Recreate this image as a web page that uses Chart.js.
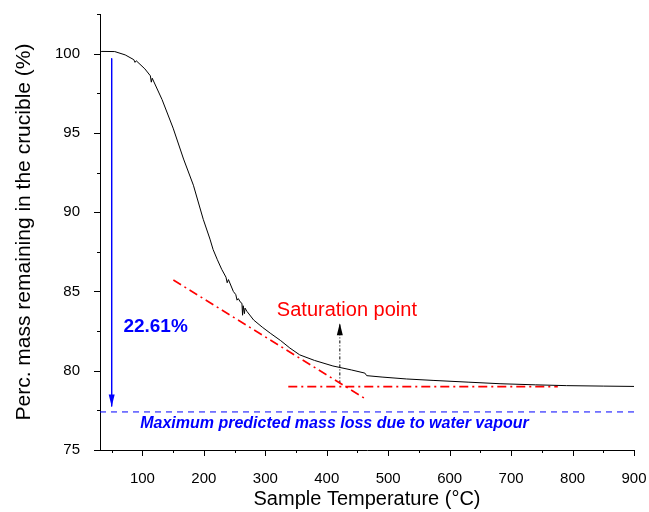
<!DOCTYPE html>
<html>
<head>
<meta charset="utf-8">
<script src="https://cdn.jsdelivr.net/npm/chart.js@4.4.1/dist/chart.umd.min.js"></script>
<style>
  html, body { margin: 0; padding: 0; background: #fff; }
  canvas { display: block; }
</style>
</head>
<body>
<canvas id="tgaChart" width="649" height="512"></canvas>
<script>
// TGA curve: sample temperature (°C) vs mass remaining (%)
const temps = [31, 31.3, 34, 55, 72, 86, 88, 90, 104, 113, 114.5, 116, 132, 150, 167, 183, 199, 210, 215, 222, 229, 236, 238, 240, 248, 252, 254, 256, 260, 262, 263, 264, 266, 267, 270, 281, 295, 308, 325, 340, 356, 380, 410, 440, 462, 465, 490, 530, 573, 630, 682, 740, 790, 850, 900];
const massPct = [100.75, 100.1, 100.14, 100.13, 99.92, 99.62, 99.45, 99.55, 99.04, 98.6, 98.2, 98.45, 97.1, 95.3, 93.35, 91.7, 89.55, 88.3, 87.65, 87.0, 86.4, 85.9, 85.55, 85.75, 85.0, 84.8, 84.45, 84.55, 84.3, 84.25, 83.5, 84.1, 83.6, 83.95, 83.75, 83.2, 82.75, 82.37, 81.9, 81.43, 81.0, 80.65, 80.3, 80.05, 79.85, 79.69, 79.6, 79.48, 79.39, 79.28, 79.18, 79.11, 79.06, 79.03, 79.01];

// construction lines
const tangentX = [150.4, 464.9];
const tangentY = [85.72, 78.18];
const plateauX = [337.4, 776];
const plateauY = [79.0, 79.0];
const satArrowX = [421.3, 421.3];
const satArrowY = [79.2, 83.0];
const lossArrowX = [50, 50];
const lossArrowY = [99.7, 77.75];
const waterLimitX = [31, 900];
const waterLimitY = [77.4, 77.4];

// axis ticks
const xMajorTicks = [100, 200, 300, 400, 500, 600, 700, 800, 900];
const xMinorTicks = [50, 150, 250, 350, 450, 550, 650, 750, 850];
const yMajorTicks = [75, 80, 85, 90, 95, 100];
const yMinorTicks = [77.5, 82.5, 87.5, 92.5, 97.5, 102.5];

// text labels
const lossLabel = { text: '22.61%', x: 121.5, y: 82.77 };
const satLabel = { text: 'Saturation point', x: 432.8, y: 83.77 };
const waterLabel = { text: 'Maximum predicted mass loss due to water vapour', x: 412.5, y: 76.67 };

const toPts = (xs, ys) => xs.map((x, i) => ({ x: x, y: ys[i] }));
const FONT = "'Liberation Sans', Arial, sans-serif";

const tickPlugin = {
  id: 'tickPlugin',
  afterDraw(chart) {
    const ctx = chart.ctx;
    const xs = chart.scales.x, ys = chart.scales.y;
    const area = chart.chartArea;
    ctx.save();
    ctx.strokeStyle = '#000';
    ctx.lineWidth = 1;
    ctx.beginPath();
    xMajorTicks.concat(xMinorTicks).forEach(v => {
      const len = xMajorTicks.includes(v) ? 6 : 3;
      const px = Math.round(xs.getPixelForValue(v)) + 0.5;
      ctx.moveTo(px, area.bottom);
      ctx.lineTo(px, area.bottom + len);
    });
    yMajorTicks.concat(yMinorTicks).forEach(v => {
      const len = yMajorTicks.includes(v) ? 6 : 3;
      const py = Math.round(ys.getPixelForValue(v)) + 0.5;
      ctx.moveTo(area.left, py);
      ctx.lineTo(area.left - len, py);
    });
    ctx.stroke();
    ctx.restore();
  }
};

const annotPlugin = {
  id: 'annotPlugin',
  afterDatasetsDraw(chart) {
    const ctx = chart.ctx;
    const xs = chart.scales.x, ys = chart.scales.y;
    ctx.save();
    // arrowheads at the end of arrow datasets
    chart.data.datasets.forEach((ds, i) => {
      if (!ds.arrow) return;
      const pts = chart.getDatasetMeta(i).data;
      const tip = pts[pts.length - 1];
      const dir = tip.y > pts[0].y ? 1 : -1;
      ctx.fillStyle = ds.borderColor;
      ctx.beginPath();
      ctx.moveTo(tip.x, tip.y);
      ctx.lineTo(tip.x - 3, tip.y - dir * 12);
      ctx.lineTo(tip.x + 3, tip.y - dir * 12);
      ctx.closePath();
      ctx.fill();
    });
    ctx.textAlign = 'center';
    ctx.textBaseline = 'middle';
    ctx.fillStyle = '#0000ff';
    ctx.font = 'bold 19px ' + FONT;
    ctx.fillText(lossLabel.text, xs.getPixelForValue(lossLabel.x), ys.getPixelForValue(lossLabel.y));
    ctx.fillStyle = '#ff0000';
    ctx.font = '20px ' + FONT;
    ctx.fillText(satLabel.text, xs.getPixelForValue(satLabel.x), ys.getPixelForValue(satLabel.y));
    ctx.fillStyle = '#0000ff';
    ctx.font = 'italic bold 16px ' + FONT;
    ctx.fillText(waterLabel.text, xs.getPixelForValue(waterLabel.x), ys.getPixelForValue(waterLabel.y));
    ctx.restore();
  }
};

new Chart(document.getElementById('tgaChart'), {
  type: 'line',
  data: {
    datasets: [
      {
        label: 'Mass',
        data: toPts(temps, massPct),
        borderColor: '#000',
        borderWidth: 1,
        pointRadius: 0,
        tension: 0
      },
      {
        label: 'Tangent',
        data: toPts(tangentX, tangentY),
        borderColor: '#ff0000',
        borderWidth: 1.6,
        borderDash: [9, 4, 2, 4],
        pointRadius: 0
      },
      {
        label: 'Plateau',
        data: toPts(plateauX, plateauY),
        borderColor: '#ff0000',
        borderWidth: 1.6,
        borderDash: [9, 4, 2, 4],
        pointRadius: 0
      },
      {
        label: 'Saturation',
        data: toPts(satArrowX, satArrowY),
        borderColor: '#000',
        borderWidth: 1,
        borderDash: [3, 2, 1, 2],
        pointRadius: 0,
        arrow: true
      },
      {
        label: 'Loss',
        data: toPts(lossArrowX, lossArrowY),
        borderColor: '#0000ff',
        borderWidth: 1,
        pointRadius: 0,
        arrow: true
      },
      {
        label: 'Water limit',
        data: toPts(waterLimitX, waterLimitY),
        borderColor: '#0000ff',
        borderWidth: 1,
        borderDash: [6, 5],
        pointRadius: 0
      }
    ]
  },
  options: {
    responsive: false,
    animation: false,
    devicePixelRatio: 1,
    layout: { padding: { top: 14, right: 15, left: 0, bottom: 0 } },
    plugins: {
      legend: { display: false },
      tooltip: { enabled: false }
    },
    scales: {
      x: {
        type: 'linear',
        min: 31,
        max: 900,
        afterBuildTicks: s => { s.ticks = xMajorTicks.map(v => ({ value: v })); },
        afterFit: s => { s.height = 62; s.paddingLeft = 0; s.paddingRight = 0; },
        grid: { display: false },
        border: { display: true, color: '#000', width: 1 },
        ticks: { color: '#000', padding: 12, maxRotation: 0, font: { family: FONT, size: 15 } },
        title: {
          display: true,
          text: 'Sample Temperature (°C)',
          color: '#000',
          padding: { top: 0, bottom: 1 },
          font: { family: FONT, size: 20 }
        }
      },
      y: {
        min: 75,
        max: 102.5,
        afterBuildTicks: s => { s.ticks = yMajorTicks.map(v => ({ value: v })); },
        afterFit: s => { s.width = 100; s.paddingTop = 0; s.paddingBottom = 0; },
        grid: { display: false },
        border: { display: true, color: '#000', width: 1 },
        ticks: { color: '#000', padding: 12, font: { family: FONT, size: 15 } },
        title: {
          display: true,
          text: 'Perc. mass remaining in the crucible (%)',
          color: '#000',
          padding: { top: 12, bottom: 0 },
          font: { family: FONT, size: 21 }
        }
      }
    }
  },
  plugins: [tickPlugin, annotPlugin]
});
</script>
</body>
</html>
